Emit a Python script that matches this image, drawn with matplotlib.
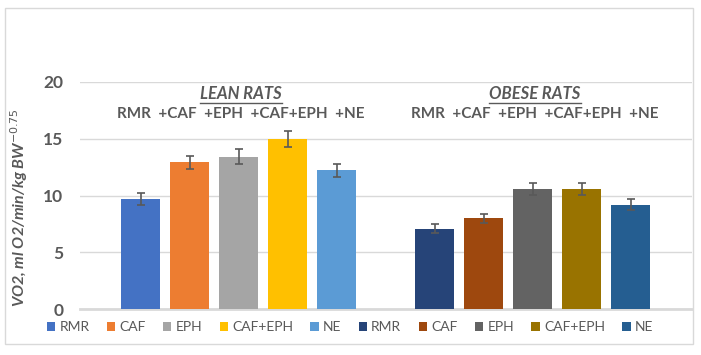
import matplotlib.pyplot as plt
from matplotlib.patches import Rectangle

# data
lean_labels = ["RMR", "CAF", "EPH", "CAF+EPH", "NE"]
obese_labels = ["RMR", "CAF", "EPH", "CAF+EPH", "NE"]
lean_values = [9.7, 12.9, 13.4, 15.0, 12.2]
lean_errors = [0.5, 0.6, 0.65, 0.7, 0.6]
obese_values = [7.1, 8.0, 10.6, 10.6, 9.2]
obese_errors = [0.37, 0.4, 0.53, 0.53, 0.47]
lean_colors = ["#4472C4", "#ED7D31", "#A5A5A5", "#FFC000", "#5B9BD5"]
obese_colors = ["#264478", "#9E480E", "#636363", "#997300", "#255E91"]
row_text = "RMR  +CAF  +EPH  +CAF+EPH  +NE"

W, H = 701, 355
fig = plt.figure(figsize=(W / 100, H / 100), dpi=100)
plt.rcParams["font.family"] = ["Lato", "DejaVu Sans"]
text_gray = "#595959"
grid_gray = "#d9d9d9"

# outer chart frame
fig.patches.append(Rectangle((5 / W, 1 - 344 / H), 688 / W, 336 / H,
                             transform=fig.transFigure, fill=False,
                             edgecolor=grid_gray, linewidth=1))

ax = fig.add_axes([80 / W, 1 - 309.3 / H, 612 / W, 227.6 / H])

for i in range(len(lean_values)):
    ax.bar(i, lean_values[i], width=0.8, color=lean_colors[i],
           yerr=lean_errors[i], capsize=3,
           error_kw=dict(ecolor="#595959", elinewidth=1.2, capthick=1.2),
           label=lean_labels[i], zorder=3)
for i in range(len(obese_values)):
    ax.bar(i + 6, obese_values[i], width=0.8, color=obese_colors[i],
           yerr=obese_errors[i], capsize=3,
           error_kw=dict(ecolor="#595959", elinewidth=1.2, capthick=1.2),
           label=obese_labels[i], zorder=3)

ax.set_xlim(-1.235, 11.255)
ax.set_ylim(0, 20)
ax.set_yticks([0, 5, 10, 15, 20])
ax.set_xticks([])
ax.yaxis.grid(True, color=grid_gray, linewidth=1)
ax.set_axisbelow(True)
for s in ["top", "right", "left"]:
    ax.spines[s].set_visible(False)
ax.spines["bottom"].set_color(grid_gray)
ax.spines["bottom"].set_linewidth(2)
ax.tick_params(axis="y", length=0, pad=12, labelsize=12.5, labelcolor=text_gray)
for t in ax.get_yticklabels():
    t.set_fontweight("bold")

ax.set_ylabel(r"VO2, ml O2/min/kg BW$^{-0.75}$", fontsize=11.5,
              fontweight="bold", fontstyle="italic", color=text_gray)
ax.yaxis.set_label_coords(-0.082, 0.445)

# group titles and treatment rows
for cx, title in [(2.05, "LEAN RATS"), (8.05, "OBESE RATS")]:
    ax.text(cx, 18.9, title, ha="center", va="center", fontsize=12,
            fontweight="bold", fontstyle="italic", color=text_gray)
    ax.text(cx, 17.15, row_text, ha="center", va="center", fontsize=11,
            fontweight="bold", color=text_gray)

# underline titles
fig.canvas.draw()
rend = fig.canvas.get_renderer()
for t in ax.texts:
    if t.get_text().endswith("RATS"):
        bb = t.get_window_extent(rend)
        y = bb.y0 - 0.5
        fig.add_artist(plt.Line2D([bb.x0 / W, bb.x1 / W], [y / H, y / H],
                                  color=text_gray, linewidth=1))

fig.legend(loc="center", bbox_to_anchor=(350 / W, 1 - 327 / H), ncol=10,
           frameon=False, fontsize=10, labelcolor=text_gray,
           handlelength=0.6, handleheight=0.6, handletextpad=0.3,
           columnspacing=1.25)

fig.savefig("out.png", dpi=100)
